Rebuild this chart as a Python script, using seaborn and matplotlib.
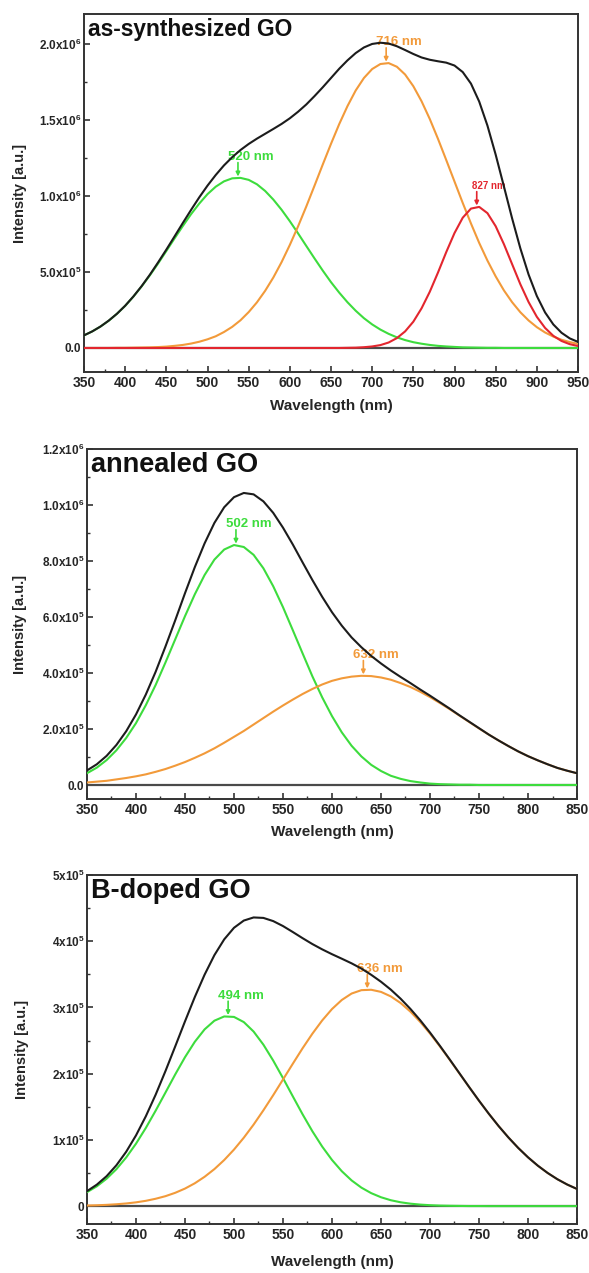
import numpy as np
import pandas as pd
import matplotlib
matplotlib.use('Agg')
import matplotlib.pyplot as plt
import seaborn as sns
from matplotlib.ticker import FixedLocator, FixedFormatter, MultipleLocator

# ---------------- data ----------------
# Panel 1: as-synthesized GO, 350-950 nm every 10 nm, intensity in units of 1e3
wl_as = list(range(350, 951, 10))
green_as = [83,109,141,179,225,277,338,405,478,556,638,721,802,880,950,1012,1061,1096,1116,1119,
            1106,1077,1033,976,909,834,754,671,589,509,433,364,301,245,196,155,121,93,70,52,
            38,28,20,14,10,7,4,3,2,1,1,0,0,0,0,0,0,0,0,0,0]
orange_as = [0,0,0,0,1,1,2,3,4,6,9,14,20,29,41,57,77,105,139,182,236,300,376,464,565,678,800,931,
             1068,1207,1343,1473,1591,1694,1776,1835,1868,1874,1850,1799,1722,1623,1506,1375,1236,
             1095,954,819,691,575,471,379,301,235,181,137,102,75,54,39,27]
red_as = [0,0,0,0,0,0,0,0,0,0,0,0,0,0,0,0,0,0,0,0,0,0,0,0,0,0,0,0,0,0,0,0,1,2,5,10,19,36,65,109,
          173,261,370,497,631,756,857,917,928,887,801,683,551,419,302,205,132,80,46,25,13]
black_as = [83,109,141,180,225,278,339,407,482,563,647,734,822,908,991,1068,1138,1201,1255,1302,
            1342,1377,1409,1441,1474,1511,1554,1602,1657,1715,1776,1837,1892,1940,1977,2000,2008,
            2003,1985,1960,1934,1911,1896,1886,1877,1858,1815,1739,1621,1463,1272,1063,852,655,483,
            342,234,155,100,63,40]
unit_as = 1e3

# Panel 2: annealed GO, 350-850 nm every 10 nm, intensity in units of 1e3
wl_an = list(range(350, 851, 10))
green_an = [42,62,89,124,168,221,285,357,437,520,603,681,750,805,841,857,850,822,774,710,635,553,
            470,388,313,246,188,140,102,72,50,33,22,14,9,5,3,2,1,1,0,0,0,0,0,0,0,0,0,0,0]
orange_an = [9,12,15,20,25,31,38,47,57,69,82,97,113,131,151,172,193,216,239,262,284,305,325,343,
             359,372,381,387,390,389,384,376,364,350,333,314,293,271,248,225,202,180,159,139,120,
             103,88,74,61,51,42]
black_an = [52,74,104,143,192,252,323,404,494,588,685,778,863,936,992,1028,1043,1038,1013,972,919,
            859,795,732,672,617,569,527,492,461,434,409,386,364,341,319,296,273,249,226,203,180,159,
            139,120,103,88,74,61,51,42]
unit_an = 1e3

# Panel 3: B-doped GO, 350-850 nm every 10 nm, intensity in units of 1e2
wl_bd = list(range(350, 851, 10))
green_bd = [211,299,414,558,735,943,1180,1440,1713,1988,2249,2481,2669,2800,2864,2857,2779,2636,
            2438,2198,1933,1658,1386,1130,899,697,527,388,279,196,134,89,58,37,23,14,8,5,3,1,1,
            0,0,0,0,0,0,0,0,0,0]
orange_bd = [9,13,19,28,40,57,80,111,150,201,265,345,443,559,696,854,1033,1231,1447,1675,1912,2150,
             2384,2604,2804,2976,3113,3210,3261,3267,3235,3167,3067,2937,2782,2606,2414,2212,2004,
             1796,1592,1395,1209,1037,879,737,611,501,406,326,259]
black_bd = [226,324,452,617,821,1068,1356,1681,2037,2411,2790,3157,3495,3790,4028,4203,4312,4359,
            4352,4304,4229,4139,4046,3957,3877,3804,3736,3666,3587,3493,3388,3269,3132,2978,2807,
            2621,2423,2217,2007,1797,1592,1395,1209,1037,879,737,611,501,406,326,259]
unit_bd = 1e2

# peak markers: wavelength of the arrow, label text
peaks_as = [(537, 'green', '520 nm'), (717, 'orange', '716 nm'), (827, 'red', '827 nm')]
peaks_an = [(502, 'green', '502 nm'), (632, 'orange', '632 nm')]
peaks_bd = [(494, 'green', '494 nm'), (636, 'orange', '636 nm')]

titles = ['as-synthesized GO', 'annealed GO', 'B-doped GO']
yticks_as = [0, 0.5e6, 1.0e6, 1.5e6, 2.0e6]
ylabels_as = ['0.0', '5.0x10$^{5}$', '1.0x10$^{6}$', '1.5x10$^{6}$', '2.0x10$^{6}$']
yticks_an = [0, 0.2e6, 0.4e6, 0.6e6, 0.8e6, 1.0e6, 1.2e6]
ylabels_an = ['0.0', '2.0x10$^{5}$', '4.0x10$^{5}$', '6.0x10$^{5}$', '8.0x10$^{5}$',
              '1.0x10$^{6}$', '1.2x10$^{6}$']
yticks_bd = [0, 1e5, 2e5, 3e5, 4e5, 5e5]
ylabels_bd = ['0', '1x10$^{5}$', '2x10$^{5}$', '3x10$^{5}$', '4x10$^{5}$', '5x10$^{5}$']

# ---------------- style ----------------
sns.set_theme(style='white')
plt.rcParams['font.family'] = ['Liberation Sans', 'DejaVu Sans']
plt.rcParams['font.weight'] = 'bold'
plt.rcParams['axes.labelweight'] = 'bold'
plt.rcParams['mathtext.fontset'] = 'custom'
plt.rcParams['mathtext.rm'] = 'Liberation Sans:bold'
plt.rcParams['mathtext.it'] = 'Liberation Sans:bold'
plt.rcParams['mathtext.bf'] = 'Liberation Sans:bold'

COLORS = {'black': '#1c1c1c', 'green': '#3ddc3d', 'orange': '#f29a3a', 'red': '#e3262e'}

fig = plt.figure(figsize=(5.89, 12.73), dpi=100)
ax1 = fig.add_axes([84/589, 1-372/1273, 494/589, 358/1273])
ax2 = fig.add_axes([87/589, 1-799/1273, 490/589, 350/1273])
ax3 = fig.add_axes([87/589, 1-1224/1273, 490/589, 349/1273])


def draw(ax, wl, series, unit):
    rows = []
    for name, vals in series:
        for w, v in zip(wl, vals):
            rows.append((w, v * unit, name))
    df = pd.DataFrame(rows, columns=['wl', 'I', 'curve'])
    for name, _ in series:
        sub = df[df['curve'] == name]
        sns.lineplot(data=sub, x='wl', y='I', color=COLORS[name], lw=1.5, ax=ax,
                     estimator=None, zorder=3)
    return df


def style(ax, xlim, ylim, yt, ylab, yminor, title, tfs, ylx, xly):
    ax.set_xlim(*xlim)
    ax.set_ylim(*ylim)
    ax.axhline(0, color='#4a4a4a', lw=1.6, zorder=1)
    ax.xaxis.set_major_locator(MultipleLocator(50))
    ax.xaxis.set_minor_locator(MultipleLocator(25))
    ax.yaxis.set_major_locator(FixedLocator(yt))
    ax.yaxis.set_major_formatter(FixedFormatter(ylab))
    ax.yaxis.set_minor_locator(MultipleLocator(yminor))
    ax.tick_params(axis='both', which='both', direction='in', left=True, bottom=True,
                   top=False, right=False)
    ax.tick_params(axis='both', which='major', length=4, width=1.2, color='#333333')
    ax.tick_params(axis='both', which='minor', length=2.5, width=1.0, color='#333333')
    ax.tick_params(axis='x', labelsize=10, pad=3)
    ax.tick_params(axis='y', labelsize=8.5, pad=2)
    for s in ax.spines.values():
        s.set_color('#333333')
        s.set_linewidth(1.4)
    ax.set_xlabel('Wavelength (nm)', fontsize=11, fontweight='bold')
    ax.set_ylabel('Intensity [a.u.]', fontsize=10.5, fontweight='bold')
    ax.yaxis.set_label_coords(ylx, 0.5)
    ax.xaxis.set_label_coords(0.5, xly)
    ax.text(0.008, 0.99, title, transform=ax.transAxes, ha='left', va='top',
            fontsize=tfs, fontweight='bold', color='#111111')


def mark(ax, df, peaks):
    for x, name, text in peaks:
        y = df[df['curve'] == name]['I'].max()
        fs = 7 if name == 'red' else 9.5
        c = COLORS[name]
        ax.annotate('', xy=(x, y), xytext=(0, 11), textcoords='offset points',
                    arrowprops=dict(arrowstyle='-|>', color=c, lw=1.2, mutation_scale=6,
                                    shrinkA=0, shrinkB=1), zorder=2)
        ax.annotate(text, xy=(x, y), xytext=(9, 15), textcoords='offset points',
                    ha='center', va='center', color=c, fontsize=fs, fontweight='bold', zorder=2)


df1 = draw(ax1, wl_as, [('green', green_as), ('orange', orange_as), ('red', red_as),
                        ('black', black_as)], unit_as)
style(ax1, (350, 950), (-0.158e6, 2.197e6), yticks_as, ylabels_as, 0.25e6,
      titles[0], 16.4, -0.115, -0.075)
mark(ax1, df1, peaks_as)

df2 = draw(ax2, wl_an, [('green', green_an), ('orange', orange_an), ('black', black_an)], unit_an)
style(ax2, (350, 850), (-0.05e6, 1.2e6), yticks_an, ylabels_an, 0.1e6,
      titles[1], 19.5, -0.122, -0.075)
mark(ax2, df2, peaks_an)

df3 = draw(ax3, wl_bd, [('green', green_bd), ('orange', orange_bd), ('black', black_bd)], unit_bd)
style(ax3, (350, 850), (-0.27e5, 5e5), yticks_bd, ylabels_bd, 0.5e5,
      titles[2], 19.5, -0.118, -0.09)
mark(ax3, df3, peaks_bd)

fig.savefig('out.png', dpi=100)
